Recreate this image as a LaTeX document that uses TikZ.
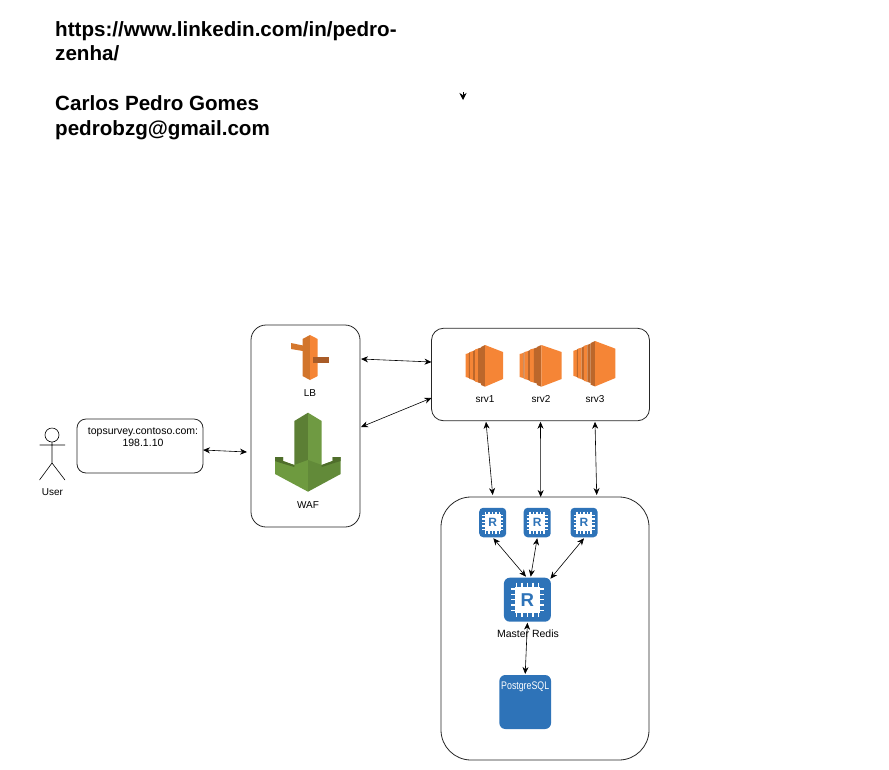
\documentclass[tikz,border=0pt]{standalone}
\usepackage{xcolor}
\usepackage{fontspec}
\setmainfont{Liberation Sans}
\usepackage{tikz}
\usetikzlibrary{shapes.geometric, arrows.meta, positioning}

\definecolor{ecLight}{HTML}{F58536}
\definecolor{ecDark}{HTML}{BC672B}
\definecolor{lbDark}{HTML}{D2752B}
\definecolor{lbArm}{HTML}{A95C28}
\definecolor{wafDark}{HTML}{5C7F35}
\definecolor{wafMid}{HTML}{6E9A3F}
\definecolor{wafLight}{HTML}{6F9A42}
\definecolor{wafWing}{HTML}{628A39}
\definecolor{wafEdge}{HTML}{4F6E2B}
\definecolor{redisBlue}{HTML}{2E73B8}

\tikzset{
  pics/ectwo/.style={code={
    \foreach \xa/\xb/\ya/\yb in {0/4.3/8/33, 4.3/9.3/6/35, 9.3/15.3/3.5/37.5}{
      \fill[ecLight] (\xa,\ya+1) -- (\xa+3.2,\ya) -- (\xa+3.2,\yb) -- (\xa,\yb-1) -- cycle;
      \fill[ecDark] (\xa+3.2,\ya) -- (\xb,\ya-1) -- (\xb,\yb+1) -- (\xa+3.2,\yb) -- cycle;
    }
    \fill[ecDark] (15.3,2) -- (19.3,0) -- (19.3,41.7) -- (15.3,40) -- cycle;
    \fill[ecLight] (19.3,0) -- (37.3,7) -- (37.3,34) -- (19.3,41.7) -- cycle;
  }},
  pics/redischip/.style={code={
    \fill[white] (-8,-8.5) rectangle (8,8.5);
    \foreach \p in {-7,-3.5,0,3.5,7}{
      \draw[white, line width=1.5pt] (\p,-11) -- (\p,11);
      \draw[white, line width=1.5pt] (-10.5,\p) -- (10.5,\p);
    }
    \fill[white] (-8,-8.5) rectangle (8,8.5);
    \node[transform shape, text=redisBlue, inner sep=0pt, font=\fontsize{12}{12}\selectfont\bfseries] at (0,0) {R};
  }}
}

\begin{document}
\begin{tikzpicture}[
  x=1pt, y=-1pt,
  group/.style={rectangle, draw=black!85, line width=0.8pt, outer sep=0pt},
  chip/.style={rectangle, fill=redisBlue, rounded corners=4pt, outer sep=0pt, inner sep=0pt},
  label/.style={inner sep=0pt, font=\fontsize{10}{12}\selectfont},
  arrow/.style={line width=0.6pt, <->, >={Stealth[length=7pt,width=6pt]}}
]
\useasboundingbox (0,0) rectangle (889,769);

\node (contact) [anchor=north west, inner sep=0pt, align=left, font=\fontsize{20.6}{24.8}\selectfont\bfseries] at (55,21) {https://www.linkedin.com/in/pedro-\\zenha/\\\mbox{}\\Carlos Pedro Gomes\\pedrobzg@gmail.com};

\coordinate (stubtop) at (463,92);
\coordinate (stubtip) at (463,100);
\draw [line width=0.6pt, -{Stealth[length=7pt,width=7pt]}] (stubtop) -- (stubtip);

\node (userhead) [circle, draw=black, line width=0.6pt, minimum size=14pt, inner sep=0pt, outer sep=0pt] at (52,435) {};
\coordinate (userhip) at (52,463);
\coordinate (armleft) at (39.5,445);
\coordinate (armright) at (65,445);
\coordinate (footleft) at (39.5,480);
\coordinate (footright) at (65,480);
\draw [line width=0.6pt] (userhead) -- (userhip) -- (footleft) (userhip) -- (footright) (armleft) -- (armright);
\node (user) [label] at (52.5,492) {User};

\node (urlbox) [group, rounded corners=9pt, minimum width=126pt, minimum height=54pt] at (140,446) {};
\node (urltext) [label, align=center, font=\fontsize{10.5}{12}\selectfont] at (143,437) {topsurvey.contoso.com:\\198.1.10};

\node (lbgroup) [group, rounded corners=15pt, minimum width=109pt, minimum height=202pt] at (305.5,426) {};
\fill[lbDark!90!ecLight] (291,343) -- (303,345.5) -- (303,351) -- (291,349) -- cycle;
\fill[lbDark] (302.5,339) -- (310,335) -- (310,380) -- (302.5,376) -- cycle;
\fill[ecLight] (310,335) -- (317.7,339) -- (317.7,376) -- (310,380) -- cycle;
\fill[lbArm] (312.7,357.3) -- (328.5,357.3) -- (328.5,362.5) -- (312.7,362.5) -- cycle;
\node (lb) [label] at (310,393) {LB};

\fill[wafDark] (294.3,421) -- (308,412.7) -- (308,462) -- (294.3,466) -- cycle;
\fill[wafLight] (321.7,421) -- (308,412.7) -- (308,462) -- (321.7,466) -- cycle;
\fill[wafMid] (275,457) -- (283,457) -- (283,461) -- (294.3,465) -- (308,460) -- (308,491.7) -- (275,474) -- cycle;
\fill[wafWing] (340.7,457) -- (332.5,457) -- (332.5,461) -- (321.7,465) -- (308,460) -- (308,491.7) -- (340.7,474) -- cycle;
\fill[wafEdge] (275,457) -- (283,457) -- (283,461) -- (294.3,465) -- (294.3,467) -- (281,463) -- (275,461) -- cycle;
\fill[wafEdge] (340.7,457) -- (332.5,457) -- (332.5,461) -- (321.7,465) -- (321.7,467) -- (334,463) -- (340.7,461) -- cycle;
\node (waf) [label] at (308,505) {WAF};

\node (srvgroup) [group, rounded corners=12pt, minimum width=218pt, minimum height=92.5pt] at (540.5,374.5) {};
\pic at (465.7,345) {ectwo};
\pic [xscale=1.125] at (519.7,345) {ectwo};
\pic [xscale=1.125, yscale=1.09] at (573.3,341) {ectwo};
\node (srv1) [label] at (485,399) {srv1};
\node (srv2) [label] at (541,399) {srv2};
\node (srv3) [label] at (595,399) {srv3};

\node (redisgroup) [group, rounded corners=30pt, minimum width=208pt, minimum height=263pt] at (545,628.5) {};
\node (replica1) [chip, minimum width=27pt, minimum height=29.5pt] at (492.7,522.5) {};
\node (replica2) [chip, minimum width=27pt, minimum height=29.5pt] at (537.2,522.5) {};
\node (replica3) [chip, minimum width=27pt, minimum height=29.5pt] at (584,522.5) {};
\node (master) [chip, rounded corners=6pt, minimum width=47pt, minimum height=44pt] at (527.4,599.7) {};
\pic at (replica1) {redischip};
\pic at (replica2) {redischip};
\pic at (replica3) {redischip};
\pic [scale=1.55] at (master) {redischip};
\node (masterlabel) [label, font=\fontsize{10.5}{12}\selectfont] at (528,633.5) {Master Redis};

\node (postgres) [chip, rounded corners=6pt, minimum width=51.7pt, minimum height=54pt] at (525.2,702) {};
\node (postgreslabel) [inner sep=0pt, text=white, xscale=0.8, font=\fontsize{11}{12}\selectfont] at (525.2,687) {PostgreSQL};

\draw [arrow] ([yshift=-4pt]urlbox.east) -- ([xshift=-4pt,yshift=-26pt]lbgroup.west);
\draw [arrow] ([xshift=1pt,yshift=67pt]lbgroup.east) -- ([yshift=12.5pt]srvgroup.west);
\draw [arrow] ([xshift=1pt,yshift=-1pt]lbgroup.east) -- ([yshift=-23.5pt]srvgroup.west);
\draw [arrow] ([xshift=-54.5pt,yshift=-1pt]srvgroup.south) -- ([xshift=-52.3pt,yshift=2pt]redisgroup.north);
\draw [arrow] ([yshift=-1pt]srvgroup.south) -- ([xshift=-4.3pt,yshift=0pt]redisgroup.north);
\draw [arrow] ([xshift=54.5pt,yshift=-1pt]srvgroup.south) -- ([xshift=51.7pt,yshift=2pt]redisgroup.north);
\draw [arrow] ([xshift=0.6pt,yshift=-1pt]replica1.south) -- ([xshift=-1.4pt,yshift=1pt]master.north);
\draw [arrow] ([yshift=-1pt]replica2.south) -- ([xshift=3.3pt,yshift=1pt]master.north);
\draw [arrow] ([yshift=-1pt]replica3.south) -- ([xshift=23pt,yshift=-1pt]master.north);
\draw [arrow] ([yshift=-1pt]master.south) -- ([yshift=1pt]postgres.north);
\end{tikzpicture}
\end{document}
